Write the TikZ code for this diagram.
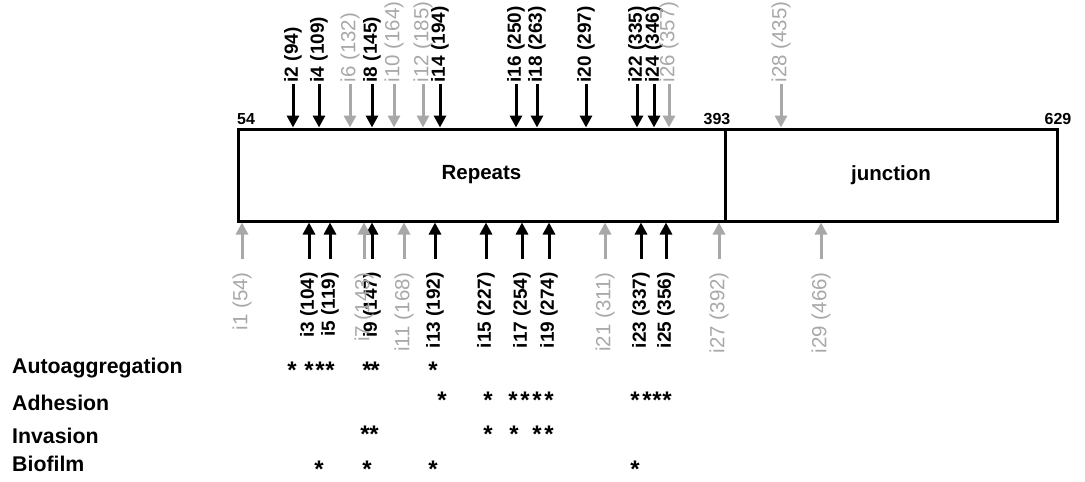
\documentclass[tikz,border=0pt]{standalone}
\usepackage{fontspec}
\setmainfont{Liberation Sans}
\usepackage{xcolor}
\usetikzlibrary{arrows.meta,positioning,calc}
\definecolor{lgray}{RGB}{168,168,168}
\newcommand{\lblfont}{\fontsize{19}{19}\selectfont}
\newcommand{\glblfont}{\fontsize{20.5}{20.5}\selectfont}
\tikzset{seg/.style={draw,line width=3pt,minimum height=92pt,inner sep=0pt,font=\fontsize{20.5}{24}\selectfont\bfseries},
  arr/.style={-{Triangle[length=12pt,width=12pt]},line width=3pt},
  garr/.style={arr,lgray},
  tb/.style={rotate=90,anchor=west,inner sep=1.5pt,font=\lblfont\bfseries},
  tg/.style={tb,lgray,font=\glblfont},
  bb/.style={rotate=90,anchor=east,inner sep=1pt,font=\lblfont\bfseries},
  bg/.style={bb,lgray,font=\glblfont},
  num/.style={anchor=base,inner sep=0pt,font=\fontsize{16}{16}\selectfont\bfseries},
  row/.style={anchor=base west,inner sep=0pt,font=\fontsize{21.3}{24}\selectfont\bfseries},
  hit/.style={anchor=base,inner sep=0pt,font=\fontsize{24}{24}\selectfont\bfseries}}

\begin{document}
\begin{tikzpicture}[x=1pt,y=-1pt]
\useasboundingbox (0,0) rectangle (1085,482);
\node[seg,minimum width=487pt] (rep) at (481.5,175){Repeats};
\node[seg,minimum width=332pt] (jun) at (891,175){junction};
\node[num,anchor=base west] (n54) at (237,124){54};
\node[num] (n393) at (717,124){393};
\node[num] (n629) at (1058,124){629};
\foreach \n/\v/\x in {2/94/293,4/109/319,8/145/372,14/194/440,16/250/516,18/263/537,20/297/586,22/335/637,24/346/654}{
  \node[tb] (i\n) at (\x,84){i\n{} (\v)};
  \draw[arr] (i\n.west) -- (i\n.west |- rep.north);}
\foreach \n/\v/\x in {6/132/350,10/164/394,12/185/423,26/357/669,28/435/781}{
  \node[tg] (i\n) at (\x,84){i\n{} (\v)};
  \draw[garr] (i\n.west) -- (i\n.west |- rep.north);}
\foreach \n/\v/\x in {3/104/309,5/119/330,9/147/372,13/192/435,15/227/486,17/254/522,19/274/549,23/337/641,25/356/666}{
  \node[bb] (i\n) at (\x,271){i\n{} (\v)};
  \draw[arr,shorten <=12pt] (i\n.east) -- (i\n.east |- rep.south);}
\foreach \n/\v/\x in {1/54/242,7/143/364,11/168/404,21/311/605,27/392/719,29/466/821}{
  \node[bg] (i\n) at (\x,271){i\n{} (\v)};
  \draw[garr,shorten <=12pt] (i\n.east) -- (i\n.east |- rep.south);}
\node[row] (auto) at (12,373){Autoaggregation};
\node[row] (adh) at (12,410){Adhesion};
\node[row] (inv) at (12,443){Invasion};
\node[row] (bio) at (12,471){Biofilm};
\foreach \x [count=\k] in {292,309,320,330,367,375,433}{\node[hit] (sa\k) at (\x,378){*};}
\foreach \x [count=\k] in {442,488,513,525,537,549,635,647,657,667}{\node[hit] (sd\k) at (\x,408){*};}
\foreach \x [count=\k] in {365,374,488,514,537,549}{\node[hit] (si\k) at (\x,442){*};}
\foreach \x [count=\k] in {319,367,433,635}{\node[hit] (sb\k) at (\x,477){*};}
\end{tikzpicture}
\end{document}
